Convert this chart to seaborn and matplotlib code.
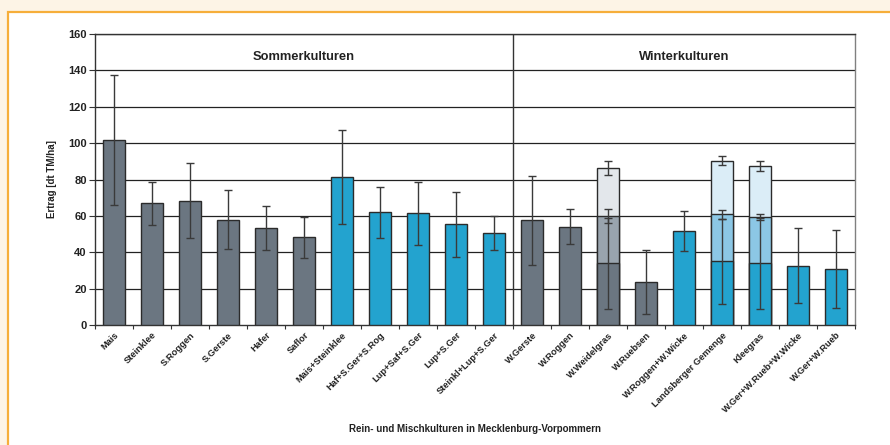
import numpy as np
import pandas as pd
import matplotlib
matplotlib.use("Agg")
import matplotlib.pyplot as plt
import seaborn as sns
from matplotlib.patches import Rectangle

# --- data (dt TM/ha)
kulturen = ['Mais', 'Steinklee', 'S.Roggen', 'S.Gerste', 'Hafer', 'Saflor',
            'Mais+Steinklee', 'Haf+S.Ger+S.Rog', 'Lup+Saf+S.Ger', 'Lup+S.Ger',
            'Steinkl+Lup+S.Ger', 'W.Gerste', 'W.Roggen', 'W.Weidelgras',
            'W.Ruebsen', 'W.Roggen+W.Wicke', 'Landsberger Gemenge', 'Kleegras',
            'W.Ger+W.Rueb+W.Wicke', 'W.Ger+W.Rueb']
typ = ['rein'] * 6 + ['misch'] * 5 + ['rein'] * 4 + ['misch'] * 5
ertrag = [101.7, 66.9, 68.4, 57.9, 53.2, 48.2, 81.4, 62.0, 61.4, 55.4, 50.6,
          57.6, 54.0, 34.0, 23.6, 51.8, 35.0, 34.0, 32.7, 30.7]
fehler = [35.5, 11.7, 20.4, 16.3, 12.0, 11.2, 26.0, 14.0, 17.3, 17.9, 9.6,
          24.5, 9.6, 25.0, 17.6, 11.0, 23.5, 25.0, 20.7, 21.3]

# stacked cuts (cumulative) for the three multi-cut crops
schnitt_kulturen = ['W.Weidelgras', 'Landsberger Gemenge', 'Kleegras']
schnitt_typ = ['rein', 'misch', 'misch']
schnitt2 = [60.0, 61.0, 59.5]
schnitt2_err = [4.0, 2.5, 1.8]
schnitt3 = [86.4, 90.4, 87.3]
schnitt3_err = [4.0, 2.5, 2.8]

gruppen = ['Sommerkulturen', 'Winterkulturen']

# --- colours
farbe = {'rein': '#6b7681', 'misch': '#23a3cf'}
farbe2 = {'rein': '#99a4ae', 'misch': '#8cc7e5'}
farbe3 = {'rein': '#e3e7eb', 'misch': '#dbedf7'}
kante = '#2b2b2b'

df = pd.DataFrame({'kultur': kulturen, 'typ': typ, 'ertrag': ertrag, 'fehler': fehler})
st = pd.DataFrame({'kultur': schnitt_kulturen, 'typ': schnitt_typ,
                   's2': schnitt2, 's2_err': schnitt2_err,
                   's3': schnitt3, 's3_err': schnitt3_err})

sns.set_theme(style='white')
plt.rcParams['font.family'] = ['Liberation Sans', 'DejaVu Sans']
plt.rcParams['font.weight'] = 'bold'

fig = plt.figure(figsize=(8.9, 4.45), dpi=100)
fig.patch.set_facecolor('#fdf4e6')
rahmen = Rectangle((8 / 890, -0.05), 1.0, 0.05 + (445 - 11.5) / 445,
                   transform=fig.transFigure, facecolor='white',
                   edgecolor='#f6ae3a', linewidth=1.6, zorder=-10)
fig.add_artist(rahmen)

ax = fig.add_axes([95 / 890, (445 - 325) / 445, 760 / 890, 291 / 445])
ax.set_facecolor('white')

bw = 0.57
bar_kw = dict(order=kulturen, width=bw, edgecolor=kante, linewidth=1, errorbar=None,
              legend=False, saturation=1, ax=ax, zorder=3)
# draw the stack from the top down so lower cuts cover the upper ones
sns.barplot(data=st, x='kultur', y='s3', hue='kultur',
            palette={k: farbe3[t] for k, t in zip(schnitt_kulturen, schnitt_typ)}, **bar_kw)
sns.barplot(data=st, x='kultur', y='s2', hue='kultur',
            palette={k: farbe2[t] for k, t in zip(schnitt_kulturen, schnitt_typ)}, **bar_kw)
sns.barplot(data=df, x='kultur', y='ertrag', hue='kultur',
            palette={k: farbe[t] for k, t in zip(kulturen, typ)}, **bar_kw)

pos = {k: i for i, k in enumerate(kulturen)}
eb = dict(fmt='none', ecolor='#3a3a3a', elinewidth=1, capsize=2.8, capthick=1, zorder=4)
ax.errorbar([pos[k] for k in kulturen], df['ertrag'], yerr=df['fehler'], **eb)
sx = [pos[k] for k in schnitt_kulturen]
ax.errorbar(sx, st['s2'], yerr=st['s2_err'], **eb)
ax.errorbar(sx, st['s3'], yerr=st['s3_err'], **eb)

# grid, frame, separator
ax.set_xlim(-0.5, len(kulturen) - 0.5)
ax.set_ylim(0, 160)
ax.set_yticks(np.arange(0, 161, 20))
for y in np.arange(20, 161, 20):
    ax.axhline(y, color='#222222', linewidth=0.9, zorder=1)
ax.axvline(10.5, color='#333333', linewidth=1, zorder=2)
for s in ax.spines.values():
    s.set_color('#333333')
    s.set_linewidth(1)
ax.spines['right'].set_color('#808080')

ax.text(5, 147.5, gruppen[0], ha='center', va='center', fontsize=9.3, fontweight='bold', color='#222222')
ax.text(15, 147.5, gruppen[1], ha='center', va='center', fontsize=9.3, fontweight='bold', color='#222222')

# ticks
ax.set_xticks(np.arange(len(kulturen)))
ax.set_xticklabels(kulturen, rotation=45, ha='right', rotation_mode='anchor',
                   fontsize=6.7, fontweight='bold', color='#222222')
ax.set_xticks(np.arange(-0.5, len(kulturen), 1), minor=True)
ax.tick_params(axis='x', which='major', length=0, pad=4)
ax.tick_params(axis='x', which='minor', length=3, width=0.8, color='#333333', direction='out', bottom=True)
ax.tick_params(axis='y', length=4, width=0.8, color='#333333', direction='out', left=True, pad=2,
               labelsize=8, labelcolor='#222222')
for lab in ax.get_yticklabels():
    lab.set_fontweight('bold')

ax.set_xlabel('Rein- und Mischkulturen in Mecklenburg-Vorpommern', fontsize=7,
              fontweight='bold', color='#222222')
ax.set_ylabel('Ertrag [dt TM/ha]', fontsize=7, fontweight='bold', color='#222222')
ax.xaxis.set_label_coords(0.5, -(424 - 325) / 291)
ax.yaxis.set_label_coords((57 - 95) / 760, 0.5)

fig.savefig('out.png', dpi=100, facecolor=fig.get_facecolor())
